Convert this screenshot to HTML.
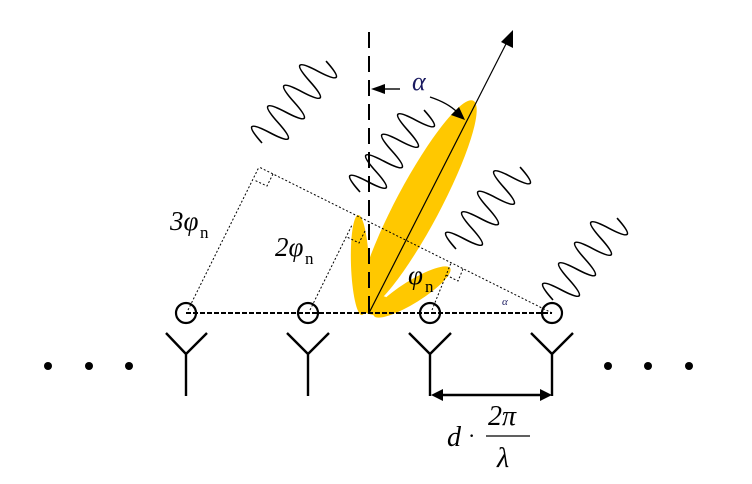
<!DOCTYPE html>
<html><head><style>html,body{margin:0;padding:0;background:#fff}svg{display:block}</style></head><body>
<svg width="752" height="484" viewBox="0 0 752 484" xmlns="http://www.w3.org/2000/svg">
<defs>
<path id="w" d="M0,0 q6.5,-36 13,0 t13,0 t13,0 t13,0 t13,0 t13,0 t13,0 t13,0" fill="none" stroke="#000" stroke-width="1.6"/>
</defs>
<g fill="#FFC800">
<ellipse cx="418" cy="205" rx="22" ry="118" transform="rotate(28 418 205)"/>
<ellipse cx="360" cy="265" rx="9" ry="50" transform="rotate(-2 360 265)"/>
<ellipse cx="412" cy="292" rx="11" ry="45" transform="rotate(58 412 292)"/>
<ellipse cx="376" cy="305" rx="16" ry="10"/>
</g>
<use href="#w" transform="translate(262,143) rotate(-52)"/>
<use href="#w" transform="translate(360,192) rotate(-52)"/>
<use href="#w" transform="translate(456,249) rotate(-52)"/>
<use href="#w" transform="translate(553,300) rotate(-52)"/>
<line x1="369" y1="32" x2="369" y2="313" stroke="#000" stroke-width="2" stroke-dasharray="16,8"/>
<line x1="369" y1="313" x2="508" y2="40" stroke="#000" stroke-width="1.2"/>
<polygon points="513,30 513,48 501,42" fill="#000"/>
<line x1="186" y1="313" x2="552" y2="313" stroke="#000" stroke-width="2" stroke-dasharray="5,2"/>
<g stroke="#000" stroke-width="1" stroke-dasharray="2,2" fill="none">
<line x1="552" y1="313" x2="259" y2="167"/>
<line x1="188" y1="310" x2="259" y2="167"/>
<line x1="310" y1="310" x2="352" y2="225"/>
<line x1="432" y1="310" x2="451" y2="263"/>
<polyline points="273,174 267,186 254,180"/>
<polyline points="365,231 359,243 347,237"/>
<polyline points="463,269 458,281 446,275"/>
</g>
<g fill="none" stroke="#000" stroke-width="2.2">
<circle cx="186" cy="313" r="10"/><circle cx="308" cy="313" r="10"/><circle cx="430" cy="313" r="10"/><circle cx="552" cy="313" r="10"/>
</g>
<g fill="none" stroke="#000" stroke-width="2.4">
<path d="M166,333 L186,354 L207,333 M186,354 V396"/>
<path d="M287,333 L308,354 L329,333 M308,354 V396"/>
<path d="M409,333 L430,354 L451,333 M430,354 V396"/>
<path d="M531,333 L552,354 L573,333 M552,354 V396"/>
<line x1="440" y1="395" x2="542" y2="395"/>
</g>
<polygon points="431,395 443,389 443,401" fill="#000"/>
<polygon points="552,395 540,389 540,401" fill="#000"/>
<g fill="#000">
<circle cx="48" cy="366" r="4"/><circle cx="89" cy="366" r="4"/><circle cx="129" cy="366" r="4"/>
<circle cx="608" cy="366" r="4"/><circle cx="648" cy="366" r="4"/><circle cx="689" cy="366" r="4"/>
</g>
<line x1="385" y1="89" x2="400" y2="89" stroke="#000" stroke-width="1.4"/>
<polygon points="371,89 385,84 385,94" fill="#000"/>
<path d="M430,97 Q448,103 457,112" fill="none" stroke="#000" stroke-width="1.4"/>
<polygon points="465,120 451,115 459,107" fill="#000"/>
<g font-family="Liberation Serif, serif" font-style="italic" fill="#000">
<text x="412" y="90" font-size="26" fill="#1a1a60">α</text>
<text x="170" y="230" font-size="27">3φ</text><text x="200" y="238" font-size="17" font-style="normal">n</text>
<text x="275" y="256" font-size="27">2φ</text><text x="305" y="264" font-size="17" font-style="normal">n</text>
<text x="408" y="284" font-size="27">φ</text><text x="425" y="292" font-size="17" font-style="normal">n</text>
<text x="502" y="305" font-size="11" fill="#1a1a60">α</text>
<text x="447" y="446" font-size="28">d</text>
<text x="468" y="443" font-size="22" font-style="normal">·</text>
<text x="488" y="425" font-size="28">2π</text>
<line x1="486" y1="436" x2="530" y2="436" stroke="#000" stroke-width="1.2"/>
<text x="497" y="467" font-size="28">λ</text>
</g>
</svg>
</body></html>
